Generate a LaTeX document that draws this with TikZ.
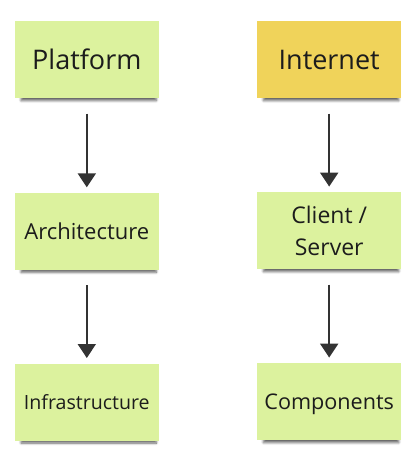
\documentclass[tikz,border=0pt]{standalone}
\usepackage{fontspec}
\setmainfont{Open Sans}
\usetikzlibrary{arrows.meta,shadows.blur}
\definecolor{notegreen}{HTML}{DCF29E}
\definecolor{noteyellow}{HTML}{F0D35A}
\definecolor{inkdark}{HTML}{1C1C1C}
\definecolor{arrowdark}{HTML}{333333}
\tikzset{
  note/.style={rectangle, fill=notegreen, minimum width=144pt, minimum height=77pt,
    inner sep=0pt, text=inkdark, align=center,
    blur shadow={shadow xshift=2pt, shadow yshift=-5pt, shadow scale=0.94,
      shadow blur radius=2.5pt, shadow blur steps=6, shadow opacity=60}},
  yellownote/.style={note, fill=noteyellow},
  oneline/.style={text height=#1, text depth=0pt},
  flow/.style={draw=arrowdark, line width=2pt, -{Triangle[width=18pt,length=14pt]}},
}
\begin{document}
\begin{tikzpicture}[x=1pt,y=-1pt]
\useasboundingbox (0,0) rectangle (418,463);
\node[note, oneline=19.3pt, font=\fontsize{27}{32}\selectfont] (platform) at (86.8,59.8) {Platform};
\node[yellownote, oneline=19.3pt, font=\fontsize{27}{32}\selectfont] (internet) at (329.2,59.8) {Internet};
\node[note, oneline=15.7pt, font=\fontsize{22}{30}\selectfont] (arch) at (86.8,231.5) {Architecture};
\node[note, font=\fontsize{23}{31.7}\selectfont] (client) at (329.2,230.8) {Client /\\Server};
\node[note, oneline=14pt, font=\fontsize{19.6}{24}\selectfont] (infra) at (86.8,402.2) {Infrastructure};
\node[note, oneline=15.4pt, font=\fontsize{21.6}{28}\selectfont] (comp) at (329.2,401.8) {Components};
\draw[flow] ([yshift=-15pt]platform.south) -- ([yshift=5.5pt]arch.north);
\draw[flow] ([yshift=-15pt]internet.south) -- ([yshift=5.5pt]client.north);
\draw[flow] ([yshift=-15pt]arch.south) -- ([yshift=5.5pt]infra.north);
\draw[flow] ([yshift=-15pt]client.south) -- ([yshift=5.5pt]comp.north);
\end{tikzpicture}
\end{document}
